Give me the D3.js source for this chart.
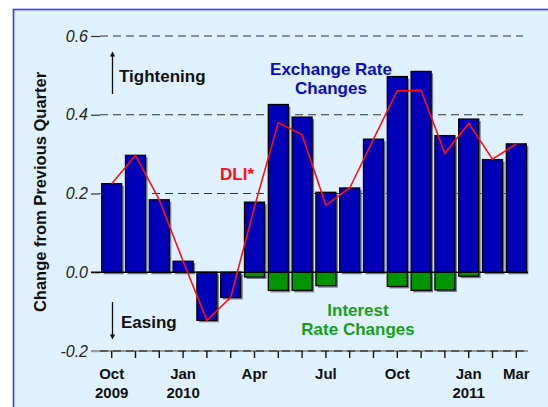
<!DOCTYPE html>
<html>
<head>
<meta charset="utf-8">
<script src="https://cdn.jsdelivr.net/npm/d3@7"></script>
<style>
  body { margin: 0; background: #fff; }
  text { font-family: Arial, "Liberation Sans", sans-serif; }
</style>
</head>
<body>
<div id="grafico"></div>
<script>
// Tamaño de la figura
const w = 548;
const h = 407;

// Datos (mensual, Oct 2009 - Mar 2011)
const periodos = ["2009-10","2009-11","2009-12","2010-01","2010-02","2010-03","2010-04","2010-05","2010-06",
                  "2010-07","2010-08","2010-09","2010-10","2010-11","2010-12","2011-01","2011-02","2011-03"];
const etiquetasMes = ["Oct","","","Jan","","","Apr","","","Jul","","","Oct","","","Jan","","Mar"];
const etiquetasAno = ["2009","","","2010","","","","","","","","","","","","2011","",""];
const tipoCambio = [0.225,0.297,0.184,0.028,-0.122,-0.064,0.178,0.426,0.394,0.203,0.214,0.338,
                    0.497,0.510,0.347,0.389,0.286,0.326];
const tipoInteres = [0,0,0,0,0,0,-0.012,-0.046,-0.046,-0.034,0,0,-0.036,-0.046,-0.045,-0.010,0,0];
const dli = [0.225,0.297,0.184,0.028,-0.122,-0.064,0.166,0.380,0.349,0.170,0.214,0.338,
             0.461,0.462,0.302,0.378,0.287,0.326];
const ticksY = [-0.2, 0.0, 0.2, 0.4, 0.6];

// Escalas
const xScale = d3.scaleBand()
  .domain(periodos)
  .range([99.8, 528.2])
  .paddingInner(0.16)
  .paddingOuter(0.08);

const yScale = d3.scaleLinear()
  .domain([-0.2, 0.6])
  .range([351, 36]);

const svg = d3.select('#grafico')
  .append('svg')
  .attr('width', w)
  .attr('height', h);

// Fondo del panel
svg.append('rect')
  .attr('x', 13.5).attr('y', 9.5)
  .attr('width', w).attr('height', h)
  .attr('fill', '#dff0fe')
  .attr('stroke', '#3a3aff')
  .attr('stroke-width', 1.6);

// Lineas guia punteadas
svg.append('g')
  .selectAll('line')
  .data(ticksY.filter(d => d > 0))
  .enter()
  .append('line')
  .attr('x1', 100).attr('x2', 523)
  .attr('y1', d => yScale(d)).attr('y2', d => yScale(d))
  .attr('stroke', '#333')
  .attr('stroke-width', 1.2)
  .attr('stroke-dasharray', '8,5');

// Eje Y (marcas y etiquetas en cursiva)
const ejeY = svg.append('g')
  .attr('transform', 'translate(100,0)')
  .call(d3.axisLeft(yScale).tickValues(ticksY).tickSize(9).tickPadding(3)
          .tickFormat(d => d.toFixed(1)));
ejeY.select('.domain').remove();
ejeY.selectAll('line').attr('stroke', '#333').attr('stroke-width', 1.2);
ejeY.selectAll('text')
  .style('font-size', '16px')
  .style('font-style', 'italic')
  .attr('fill', '#222');

// Eje inferior en -0.2
svg.append('line')
  .attr('x1', 91).attr('x2', 528)
  .attr('y1', yScale(-0.2)).attr('y2', yScale(-0.2))
  .attr('stroke', '#999').attr('stroke-width', 2);
svg.append('line')
  .attr('x1', 100).attr('x2', 528)
  .attr('y1', yScale(-0.2)).attr('y2', yScale(-0.2))
  .attr('stroke', '#444').attr('stroke-width', 1.5)
  .attr('stroke-dasharray', '8,5');

const ejeX = svg.append('g')
  .attr('transform', 'translate(0,' + yScale(-0.2) + ')')
  .call(d3.axisBottom(xScale).tickSize(7).tickFormat(''));
ejeX.select('.domain').remove();
ejeX.selectAll('line').attr('stroke', '#111').attr('stroke-width', 1.4);

// Etiquetas de meses y años
const cx = (d, i) => xScale(periodos[i]) + xScale.bandwidth() / 2;
svg.append('g')
  .selectAll('text')
  .data(etiquetasMes)
  .enter()
  .append('text')
  .attr('x', cx)
  .attr('y', 379)
  .attr('text-anchor', 'middle')
  .style('font-size', '15px')
  .style('font-weight', 'bold')
  .attr('fill', '#111')
  .text(d => d);

svg.append('g')
  .selectAll('text')
  .data(etiquetasAno)
  .enter()
  .append('text')
  .attr('x', cx)
  .attr('y', 398)
  .attr('text-anchor', 'middle')
  .style('font-size', '15px')
  .style('font-weight', 'bold')
  .attr('fill', '#111')
  .text(d => d);

// Sombra + barras
function barras(valores, color) {
  const g = svg.append('g');
  const datos = valores.map((v, i) => ({ p: periodos[i], v: v })).filter(d => d.v !== 0);
  g.selectAll('rect.sombra')
    .data(datos)
    .enter()
    .append('rect')
    .attr('class', 'sombra')
    .attr('x', d => xScale(d.p) + 2)
    .attr('y', d => Math.min(yScale(d.v), yScale(0)) + 2)
    .attr('width', xScale.bandwidth())
    .attr('height', d => Math.abs(yScale(d.v) - yScale(0)))
    .attr('fill', '#6d7c8c');
  g.selectAll('rect.barra')
    .data(datos)
    .enter()
    .append('rect')
    .attr('class', 'barra')
    .attr('x', d => xScale(d.p))
    .attr('y', d => Math.min(yScale(d.v), yScale(0)))
    .attr('width', xScale.bandwidth())
    .attr('height', d => Math.abs(yScale(d.v) - yScale(0)))
    .attr('fill', color)
    .attr('stroke', '#000')
    .attr('stroke-width', 1.3);
}
barras(tipoCambio, '#0000b8');
barras(tipoInteres, '#009400');

// Linea del cero
svg.append('line')
  .attr('x1', 91).attr('x2', 528)
  .attr('y1', yScale(0)).attr('y2', yScale(0))
  .attr('stroke', '#000').attr('stroke-width', 1.6);

// Serie DLI
svg.append('path')
  .datum(dli)
  .attr('fill', 'none')
  .attr('stroke', '#ff1010')
  .attr('stroke-width', 1.6)
  .attr('d', d3.line()
    .x((d, i) => xScale(periodos[i]) + xScale.bandwidth() / 2)
    .y(d => yScale(d)));

// Textos de anotacion
function texto(x, y, t, color, ancla) {
  svg.append('text')
    .attr('x', x).attr('y', y)
    .attr('text-anchor', ancla || 'start')
    .attr('dominant-baseline', 'central')
    .style('font-size', '17px')
    .style('font-weight', 'bold')
    .attr('fill', color)
    .text(t);
}
texto(119, 76, 'Tightening', '#111');
texto(121, 322, 'Easing', '#111');
texto(331, 69, 'Exchange Rate', '#0a0ac8', 'middle');
texto(331, 88, 'Changes', '#0a0ac8', 'middle');
texto(220, 174, 'DLI*', '#ff1010');
texto(358, 310, 'Interest', '#16a016', 'middle');
texto(358, 329, 'Rate Changes', '#16a016', 'middle');

// Flechas
svg.append('defs').append('marker')
  .attr('id', 'punta')
  .attr('viewBox', '0 0 10 10')
  .attr('refX', 5).attr('refY', 5)
  .attr('markerWidth', 4).attr('markerHeight', 5)
  .attr('orient', 'auto')
  .append('path')
  .attr('d', 'M0,0L10,5L0,10Z')
  .attr('fill', '#111');

svg.append('line')
  .attr('x1', 112.5).attr('x2', 112.5)
  .attr('y1', 94).attr('y2', 54)
  .attr('stroke', '#111').attr('stroke-width', 1.3)
  .attr('marker-end', 'url(#punta)');
svg.append('line')
  .attr('x1', 112.5).attr('x2', 112.5)
  .attr('y1', 302).attr('y2', 337)
  .attr('stroke', '#111').attr('stroke-width', 1.3)
  .attr('marker-end', 'url(#punta)');

// Titulo del eje Y
svg.append('text')
  .attr('text-anchor', 'middle')
  .attr('dominant-baseline', 'central')
  .attr('transform', 'translate(40,192)rotate(-90)')
  .style('font-size', '16.5px')
  .style('font-weight', 'bold')
  .attr('fill', '#111')
  .text('Change from Previous Quarter');
</script>
</body>
</html>
